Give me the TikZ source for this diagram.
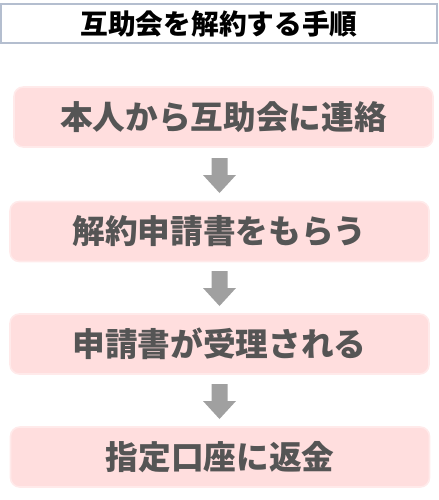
\documentclass[tikz,border=0pt]{standalone}
\usepackage{fontspec}
\newfontfamily\cjk{Noto Sans CJK JP}[BoldFont={Noto Sans CJK JP Black}]
\definecolor{boxfill}{HTML}{FFDEDE}
\definecolor{boxline}{HTML}{FFEAEA}
\definecolor{boxtext}{HTML}{555555}
\definecolor{titleline}{HTML}{B4BECF}
\definecolor{arrowgray}{HTML}{A0A0A0}
\tikzset{
  px/.style={x=0.75pt,y=-0.75pt},
  stepbox/.style={draw=boxline, line width=1.2pt, fill=boxfill, rounded corners=7pt,
    minimum width=419*0.75pt, minimum height=60*0.75pt, inner sep=0pt,
    font=\cjk\bfseries\fontsize{24.5pt}{26pt}\selectfont, text=boxtext},
  titlebox/.style={draw=titleline, line width=0.9pt, fill=white,
    minimum width=436*0.75pt, minimum height=39*0.75pt, inner sep=0pt,
    font=\cjk\bfseries\fontsize{20.8pt}{22pt}\selectfont, text=black}
}
\newcommand{\downarrowshape}[2]{% x center, top y
  \fill[arrowgray] (#1-8,#2) -- (#1+8,#2) -- (#1+8,#2+17) -- (#1+16.5,#2+17) -- (#1,#2+35) -- (#1-16.5,#2+17) -- (#1-8,#2+17) -- cycle;
}
\begin{document}
\begin{tikzpicture}[px]
\useasboundingbox (0,0) rectangle (439,500);
\node[titlebox] (title) at (219,23.5) {互助会を解約する手順};
\node[stepbox] (s1) at (223.5,117) {本人から互助会に連絡};
\node[stepbox] (s2) at (219.5,231.5) {解約申請書をもらう};
\node[stepbox] (s3) at (219.5,344) {申請書が受理される};
\node[stepbox] (s4) at (220,457) {指定口座に返金};
\downarrowshape{219.5}{158}
\downarrowshape{219.5}{271}
\downarrowshape{219.5}{384}
\end{tikzpicture}
\end{document}
